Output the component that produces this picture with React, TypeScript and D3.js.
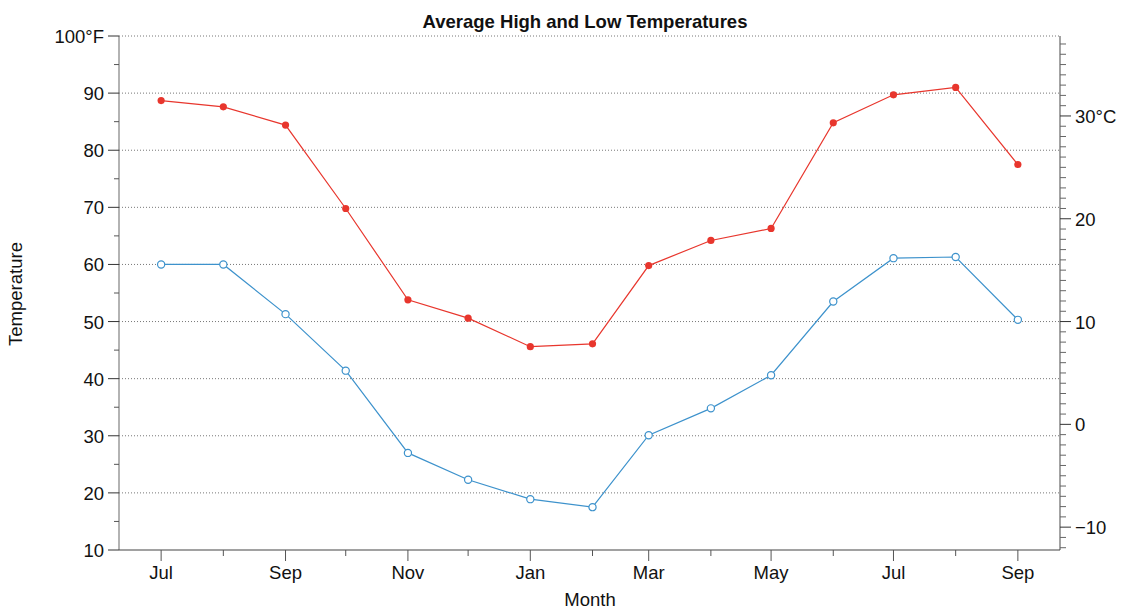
import React from 'react';
import * as d3 from 'd3';

// monthly averages, Jul (year 1) .. Sep (year 2)
const months = [
  '2020-07-01', '2020-08-01', '2020-09-01', '2020-10-01', '2020-11-01',
  '2020-12-01', '2021-01-01', '2021-02-01', '2021-03-01', '2021-04-01',
  '2021-05-01', '2021-06-01', '2021-07-01', '2021-08-01', '2021-09-01'
];
const highF = [88.7, 87.6, 84.4, 69.8, 53.8, 50.6, 45.6, 46.1, 59.8, 64.2, 66.3, 84.8, 89.7, 91.0, 77.5];
const lowF = [60.0, 60.0, 51.3, 41.4, 27.0, 22.3, 18.9, 17.5, 30.1, 34.8, 40.6, 53.5, 61.1, 61.3, 50.3];
const fTicks = [10, 20, 30, 40, 50, 60, 70, 80, 90, 100];
const cTicks = [-10, 0, 10, 20, 30];

const W = 1121;
const H = 610;
const left = 119;
const right = 1060;
const top = 36;
const bottom = 550;

const parse = d3.timeParse('%Y-%m-%d');

export default function App() {
  const dates = months.map(m => parse(m) as Date);

  const x = d3
    .scaleTime()
    .domain([parse('2020-06-10') as Date, parse('2021-09-22') as Date])
    .range([left, right]);
  const y = d3.scaleLinear().domain([10, 100]).range([bottom, top]);
  const c = d3
    .scaleLinear()
    .domain([((10 - 32) * 5) / 9, ((100 - 32) * 5) / 9])
    .range([bottom, top]);

  const line = d3
    .line<number>()
    .x((d, i) => x(dates[i]))
    .y(d => y(d));

  const minorF = d3.range(15, 100, 10);
  const minorC = d3.range(-12, 38).filter(v => v % 10 !== 0);
  const monthTicks = d3.timeMonth.range(dates[0], d3.timeDay.offset(dates[dates.length - 1], 1));

  const font = 'Liberation Sans, Arial, sans-serif';
  const tickFont = { fontFamily: font, fontSize: 18.5, fill: '#111' };
  const axisColor = '#666';

  return (
    <svg width={W} height={H} style={{ position: 'absolute', left: 0, top: 0 }}>
      <rect width={W} height={H} fill="#fff" />

      {/* grid */}
      {fTicks.filter(v => v > 10).map(v => (
        <line key={'g' + v} x1={left} x2={right} y1={y(v)} y2={y(v)} stroke="#777" strokeWidth={1} strokeDasharray="1,2" />
      ))}

      {/* left axis */}
      <line x1={left} x2={left} y1={top} y2={bottom} stroke="#808080" strokeWidth={1.2} />
      {fTicks.map(v => (
        <g key={'f' + v}>
          <line x1={left - 11} x2={left} y1={y(v)} y2={y(v)} stroke="#333" />
          <text x={left - 15} y={y(v) + 7} textAnchor="end" style={tickFont}>
            {v === 100 ? '100°F' : v}
          </text>
        </g>
      ))}
      {minorF.map(v => (
        <line key={'mf' + v} x1={left - 5} x2={left} y1={y(v)} y2={y(v)} stroke="#555" />
      ))}

      {/* right axis (celsius) */}
      <line x1={right} x2={right} y1={top} y2={bottom} stroke="#666" strokeWidth={1.2} />
      {cTicks.map(v => (
        <g key={'c' + v}>
          <line x1={right} x2={right + 11} y1={c(v)} y2={c(v)} stroke="#333" />
          <text x={right + 15} y={c(v) + 7} textAnchor="start" style={tickFont}>
            {v === 30 ? '30°C' : v < 0 ? '\u2212' + Math.abs(v) : v}
          </text>
        </g>
      ))}
      {minorC.map(v => (
        <line key={'mc' + v} x1={right} x2={right + 6} y1={c(v)} y2={c(v)} stroke={axisColor} />
      ))}

      {/* bottom axis */}
      <line x1={left} x2={right} y1={bottom} y2={bottom} stroke="#444" strokeWidth={1.2} />
      {monthTicks.map((d, i) => (
        <g key={'m' + i}>
          <line x1={x(d)} x2={x(d)} y1={bottom} y2={bottom + (i % 2 === 0 ? 11 : 6)} stroke="#555" />
          {i % 2 === 0 && (
            <text x={x(d)} y={bottom + 29} textAnchor="middle" style={tickFont}>
              {d3.timeFormat('%b')(d)}
            </text>
          )}
        </g>
      ))}

      {/* series */}
      <path d={line(highF) || ''} fill="none" stroke="#e8362d" strokeWidth={1.2} />
      <path d={line(lowF) || ''} fill="none" stroke="#3d92cc" strokeWidth={1.2} />
      {highF.map((v, i) => (
        <circle key={'h' + i} cx={x(dates[i])} cy={y(v)} r={3.6} fill="#e8362d" />
      ))}
      {lowF.map((v, i) => (
        <circle key={'l' + i} cx={x(dates[i])} cy={y(v)} r={3.6} fill="#fff" stroke="#3d92cc" strokeWidth={1.2} />
      ))}

      {/* titles */}
      <text
        x={585}
        y={28}
        textAnchor="middle"
        style={{ fontFamily: font, fontSize: 18.5, fontWeight: 'bold', fill: '#111' }}
      >
        Average High and Low Temperatures
      </text>
      <text x={590} y={606} textAnchor="middle" style={tickFont}>
        Month
      </text>
      <text transform="translate(22,294) rotate(-90)" textAnchor="middle" style={tickFont}>
        Temperature
      </text>
    </svg>
  );
}
